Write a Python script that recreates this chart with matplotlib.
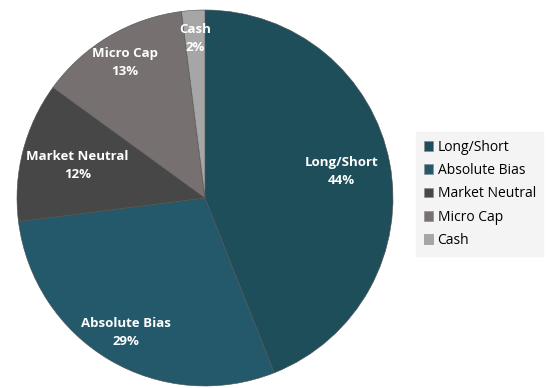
import numpy as np
import matplotlib.pyplot as plt

labels = ['Long/Short', 'Absolute Bias', 'Market Neutral', 'Micro Cap', 'Cash']
values = [44, 29, 12, 13, 2]
colors = ['#1f4e5b', '#23596a', '#474747', '#767170', '#a6a6a6']
label_dist = [0.74, 0.83, 0.70, 0.84, 0.85]

plt.rcParams['font.family'] = ['Open Sans', 'DejaVu Sans']

fig = plt.figure(figsize=(5.53, 3.88), dpi=100)
ax = fig.add_axes([17 / 553, 2 / 388, 376 / 553, 376 / 388])

wedges, _ = ax.pie(values, colors=colors, startangle=90, counterclock=False,
                   wedgeprops=dict(edgecolor='#505050', linewidth=0.4))
ax.set_xlim(-1, 1)
ax.set_ylim(-1, 1)
ax.set_aspect('equal')

for w, lab, v, d in zip(wedges, labels, values, label_dist):
    ang = np.deg2rad((w.theta1 + w.theta2) / 2)
    ax.text(d * np.cos(ang), d * np.sin(ang), f'{lab}\n{v}%', ha='center', va='center',
            color='white', fontsize=9.5, fontweight='bold', linespacing=1.5)

leg = fig.legend(wedges, labels, loc='upper left', bbox_to_anchor=(416 / 553, 1 - 132 / 388),
                 frameon=True, fontsize=10, handlelength=0.7, handleheight=0.7,
                 handletextpad=0.3, labelspacing=0.6, borderpad=0.55, borderaxespad=0,
                 fancybox=False)
leg.get_frame().set_facecolor('#f2f2f2')
leg.get_frame().set_edgecolor('#f2f2f2')
for h in leg.legend_handles:
    h.set_edgecolor('#888888')
    h.set_linewidth(0.4)

fig.savefig('out.png', dpi=100)
